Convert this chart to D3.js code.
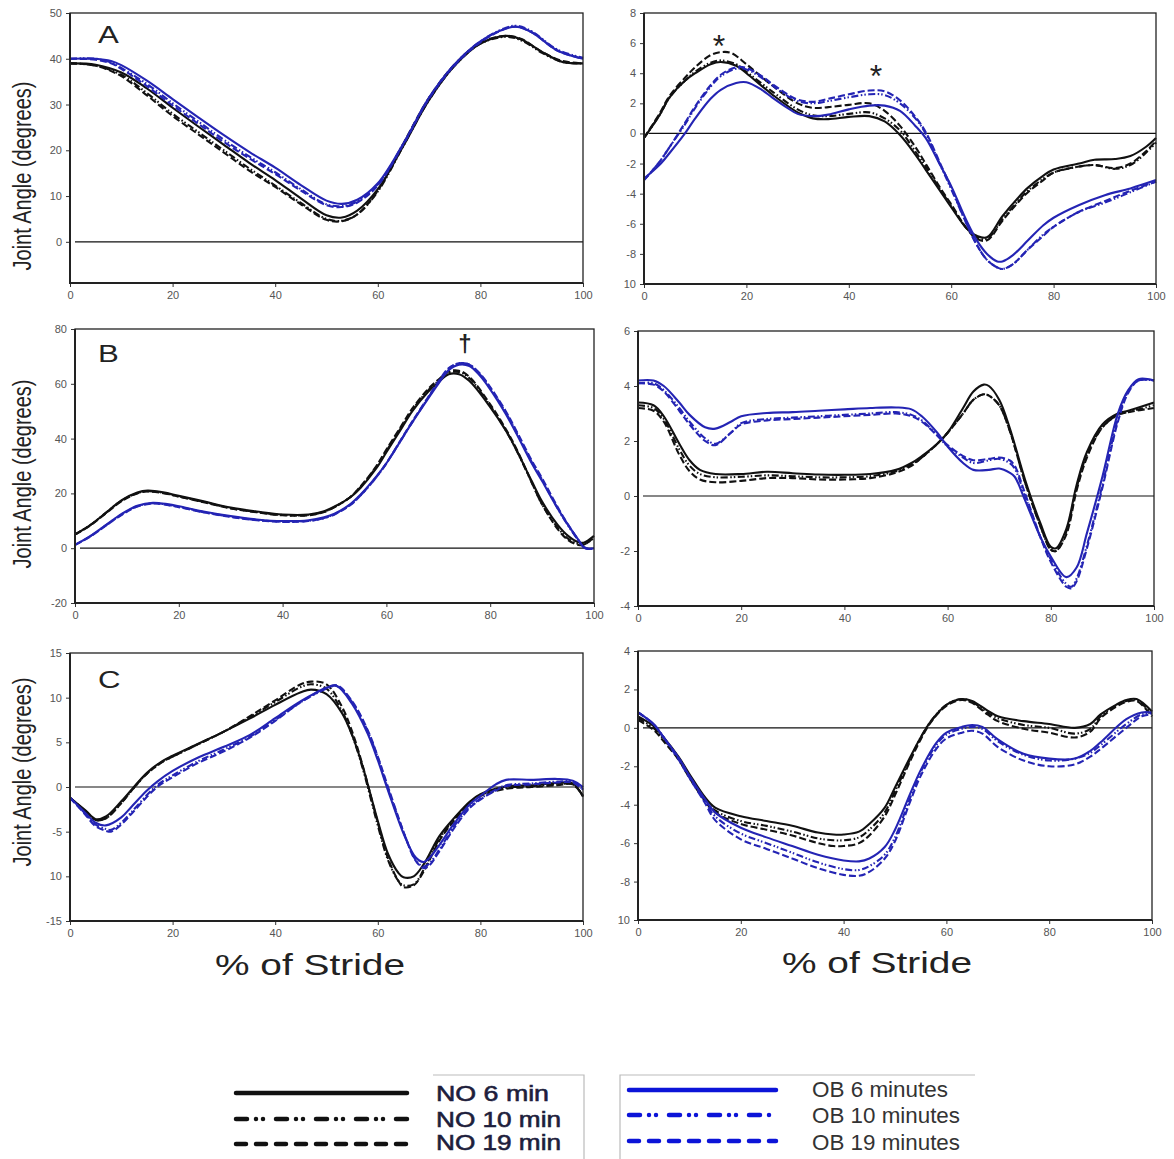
<!DOCTYPE html>
<html>
<head>
<meta charset="utf-8">
<script src="https://cdn.jsdelivr.net/npm/d3@7"></script>
<style>
  html, body { margin: 0; padding: 0; background: #fff; }
  svg { display: block; font-family: "Liberation Sans", Arial, sans-serif; }
  .tick text { font-size: 11px; fill: #555; }
  .tick line { stroke: #333; stroke-width: 1; }
</style>
</head>
<body>
<svg id="chart" width="1174" height="1159"></svg>
<script>
// ── data: joint angle (degrees) vs % of stride, [stride%, angle] ──

// panel A, left
const AL_NO6  = [[0,39],[5,38.7],[10,37],[15,33.5],[20,29.3],[25,25.2],[30,21.2],[35,17.2],[40,13.5],[45,9.5],[50,5.8],[53,5.3],[56,6.8],[60,11.5],[65,21],[70,31],[75,38.5],[80,43.3],[85,45],[88,44.2],[92,41.5],[96,39.3],[100,39]];
const AL_NO10 = [[0,39],[5,38.5],[10,36.5],[15,32.5],[20,28],[25,24],[30,20],[35,16],[40,12.3],[45,8.5],[50,5],[53,4.6],[56,6],[60,11],[65,21],[70,31],[75,38.5],[80,43.3],[85,44.8],[88,44],[92,41.3],[96,39.3],[100,39]];
const AL_NO19 = [[0,39],[5,38.5],[10,36.2],[15,32],[20,27.5],[25,23.5],[30,19.5],[35,15.5],[40,12],[45,8.2],[50,4.8],[53,4.5],[56,6],[60,11.2],[65,21.5],[70,31.5],[75,38.8],[80,43.5],[85,45],[88,44.3],[92,41.5],[96,39.5],[100,39]];
const AL_OB6  = [[0,40],[5,40],[8,39.5],[10,38.6],[15,35.2],[20,31.2],[25,27.2],[30,23.3],[35,19.6],[40,16.2],[45,12.4],[50,9],[53,8.3],[56,9.2],[60,12.8],[65,21.5],[70,31.5],[75,38.8],[80,43.8],[85,46.6],[87,47],[90,45.8],[95,41.8],[100,40]];
const AL_OB10 = [[0,40],[5,40],[8,39.2],[10,38],[15,34.5],[20,30.3],[25,26.3],[30,22.3],[35,18.6],[40,15.2],[45,11.5],[50,8.2],[53,7.8],[56,8.8],[60,12.5],[65,21.5],[70,31.5],[75,38.8],[80,43.8],[85,46.8],[87,47.2],[90,46],[95,42],[100,40.2]];
const AL_OB19 = [[0,40],[5,39.8],[8,39],[10,37.8],[15,34],[20,29.8],[25,25.8],[30,21.8],[35,18.2],[40,14.8],[45,11.2],[50,8],[53,7.6],[56,8.6],[60,12.3],[65,21.3],[70,31.3],[75,38.6],[80,43.6],[85,46.6],[87,47],[90,45.8],[95,41.8],[100,40]];

// panel A, right
const AR_NO6  = [[0,-0.3],[3,1.2],[5,2.4],[8,3.5],[10,4],[13,4.6],[15,4.75],[18,4.5],[20,4],[25,2.6],[30,1.4],[33,1.0],[36,0.95],[40,1.1],[44,1.15],[47,0.8],[50,-0.1],[53,-1.4],[55,-2.4],[58,-3.9],[60,-4.9],[63,-6.3],[65,-6.8],[67,-6.9],[70,-5.5],[73,-4.3],[75,-3.6],[78,-2.8],[80,-2.4],[85,-2.0],[88,-1.75],[92,-1.7],[95,-1.5],[98,-0.9],[100,-0.3]];
const AR_NO10 = [[0,-0.3],[3,1.2],[5,2.4],[8,3.5],[10,4.1],[13,4.7],[15,4.85],[18,4.6],[20,4.1],[25,2.8],[30,1.6],[33,1.2],[36,1.15],[40,1.3],[44,1.4],[47,1.0],[50,0.2],[53,-1.2],[55,-2.2],[58,-3.8],[60,-4.8],[63,-6.3],[65,-6.9],[67,-7.0],[70,-5.7],[73,-4.5],[75,-3.8],[78,-3.0],[80,-2.6],[85,-2.2],[88,-2.1],[92,-2.35],[95,-2.1],[98,-1.3],[100,-0.6]];
const AR_NO19 = [[0,-0.3],[3,1.3],[5,2.5],[8,3.7],[10,4.4],[13,5.2],[15,5.4],[17,5.35],[20,4.6],[25,3.2],[30,2.0],[33,1.7],[36,1.75],[40,1.9],[44,2.0],[47,1.5],[50,0.5],[53,-0.9],[55,-2.0],[58,-3.7],[60,-4.7],[63,-6.3],[65,-7.0],[67,-7.1],[70,-5.8],[73,-4.6],[75,-3.9],[78,-3.1],[80,-2.6],[85,-2.2],[88,-2.1],[92,-2.3],[95,-2.0],[98,-1.2],[100,-0.5]];
const AR_OB6  = [[0,-3.0],[3,-2.1],[5,-1.3],[8,0],[10,1.0],[13,2.3],[15,2.9],[18,3.35],[20,3.4],[23,2.9],[25,2.4],[28,1.7],[30,1.3],[33,1.15],[36,1.25],[40,1.6],[44,1.85],[47,1.85],[50,1.5],[53,0.5],[55,-0.3],[58,-2.2],[60,-3.5],[63,-5.8],[65,-7.1],[67,-8.0],[69,-8.5],[70,-8.5],[72,-8.1],[75,-7.1],[78,-6.1],[80,-5.6],[85,-4.75],[90,-4.1],[95,-3.65],[100,-3.1]];
const AR_OB10 = [[0,-3.1],[3,-1.9],[5,-0.9],[8,0.6],[10,1.7],[13,3.1],[15,3.8],[18,4.3],[20,4.25],[23,3.7],[25,3.2],[28,2.5],[30,2.15],[33,2.0],[36,2.15],[40,2.4],[44,2.6],[47,2.55],[50,2.0],[53,1.0],[55,0.0],[58,-2.2],[60,-3.7],[63,-6.0],[65,-7.4],[67,-8.4],[69,-8.9],[70,-9.0],[72,-8.7],[75,-7.7],[78,-6.7],[80,-6.2],[85,-5.2],[90,-4.6],[95,-3.9],[100,-3.2]];
const AR_OB19 = [[0,-3.1],[3,-1.9],[5,-0.9],[8,0.7],[10,1.8],[13,3.2],[15,3.9],[18,4.4],[20,4.35],[23,3.8],[25,3.3],[28,2.6],[30,2.25],[33,2.1],[36,2.3],[40,2.6],[44,2.85],[47,2.8],[50,2.2],[53,1.1],[55,0.1],[58,-2.1],[60,-3.6],[63,-6.0],[65,-7.4],[67,-8.4],[69,-8.9],[70,-9.0],[72,-8.7],[75,-7.7],[78,-6.8],[80,-6.2],[85,-5.2],[90,-4.5],[95,-3.8],[100,-3.2]];

// panel B, left
const BL_NO6  = [[0,5],[3,8.5],[6,13],[9,17.5],[12,20.3],[14,21],[17,20.4],[20,19.1],[25,17],[30,14.8],[35,13.4],[40,12.3],[45,12.3],[48,13.5],[50,15.2],[53,18.5],[55,22],[58,29],[60,35],[63,44],[65,50],[68,57],[70,60.5],[72,63.5],[74,63.5],[76,61],[80,51.5],[83,43],[85,36],[88,24.5],[90,17],[93,8.5],[95,4.5],[97,2.2],[98,2.0],[100,4.5]];
const BL_NO10 = [[0,5],[3,8.5],[6,13],[9,17.4],[12,20.1],[14,20.8],[17,20.2],[20,18.9],[25,16.8],[30,14.6],[35,13.2],[40,12.1],[45,12.1],[48,13.3],[50,15],[53,18.6],[55,22.3],[58,29.5],[60,35.5],[63,44.5],[65,50.5],[68,57.5],[70,61],[72,64],[74,64.3],[76,62],[80,52],[83,43],[85,36],[88,24],[90,16],[93,7.5],[95,3.5],[97,1.5],[98,1.3],[100,3.8]];
const BL_NO19 = [[0,5],[3,8.4],[6,12.8],[9,17.2],[12,20],[14,20.7],[17,20.1],[20,18.8],[25,16.7],[30,14.5],[35,13.1],[40,12],[45,12],[48,13.2],[50,15],[53,18.6],[55,22.5],[58,29.8],[60,36],[63,45],[65,51],[68,58],[70,61.5],[72,64.5],[74,64.8],[76,62.5],[80,52.5],[83,43.5],[85,36.5],[88,24],[90,16],[93,7],[95,3],[97,1.2],[98,1.2],[100,4]];
const BL_OB6  = [[0,1.2],[3,4.5],[6,8.5],[9,12.5],[12,15.5],[15,16.6],[18,16],[20,15.3],[25,13.3],[30,11.7],[35,10.5],[40,9.9],[45,10.2],[48,11.3],[50,12.6],[53,16],[55,19.5],[58,26],[60,31],[63,40],[65,46],[68,54.5],[70,60],[72,65],[74,67],[76,66.5],[78,63],[80,58],[83,49],[85,42],[88,31],[90,24.5],[93,14.5],[95,8.5],[97,3],[98,0.5],[99,-0.2],[100,0]];
const BL_OB10 = [[0,1.2],[3,4.4],[6,8.4],[9,12.3],[12,15.3],[15,16.4],[18,15.8],[20,15.1],[25,13.1],[30,11.5],[35,10.3],[40,9.7],[45,10],[48,11],[50,12.4],[53,15.8],[55,19.3],[58,25.8],[60,31],[63,40],[65,46],[68,54.8],[70,60.5],[72,65.5],[74,67.5],[76,67],[78,63.5],[80,58.5],[83,49.5],[85,42.5],[88,31.5],[90,25],[93,14.5],[95,8.3],[97,2.8],[98,0.3],[99,-0.3],[100,0]];
const BL_OB19 = [[0,1.2],[3,4.3],[6,8.3],[9,12.2],[12,15.2],[15,16.3],[18,15.7],[20,15],[25,13],[30,11.4],[35,10.2],[40,9.6],[45,9.9],[48,11],[50,12.3],[53,15.7],[55,19.2],[58,25.8],[60,31],[63,40.2],[65,46.3],[68,55],[70,60.8],[72,65.7],[74,67.5],[76,67],[78,63.8],[80,58.8],[83,50],[85,43],[88,32],[90,25.5],[93,15],[95,8.6],[97,3],[98,0.4],[99,-0.3],[100,0]];

// panel B, right
const BR_NO6  = [[0,3.4],[3,3.3],[5,2.9],[8,1.9],[10,1.3],[12,0.95],[15,0.8],[20,0.8],[25,0.88],[30,0.83],[35,0.78],[40,0.77],[45,0.8],[50,0.95],[53,1.2],[55,1.45],[58,1.9],[60,2.3],[63,3.2],[65,3.8],[67,4.05],[68,4.0],[70,3.5],[72,2.5],[75,0.6],[78,-1.0],[80,-1.85],[81,-1.9],[83,-1.2],[85,0.4],[87,1.6],[90,2.6],[93,3.0],[95,3.1],[100,3.4]];
const BR_NO10 = [[0,3.3],[3,3.2],[5,2.8],[8,1.7],[10,1.1],[12,0.8],[15,0.68],[20,0.7],[25,0.75],[30,0.72],[35,0.68],[40,0.68],[45,0.72],[50,0.9],[53,1.15],[55,1.4],[58,1.9],[60,2.3],[63,3.0],[65,3.5],[67,3.7],[68,3.65],[70,3.3],[72,2.4],[75,0.5],[78,-1.1],[80,-1.95],[81,-2.0],[83,-1.3],[85,0.3],[87,1.5],[90,2.5],[93,2.95],[95,3.05],[100,3.3]];
const BR_NO19 = [[0,3.2],[3,3.1],[5,2.7],[8,1.5],[10,0.9],[12,0.6],[15,0.5],[20,0.55],[25,0.65],[30,0.65],[35,0.6],[40,0.6],[45,0.65],[50,0.85],[53,1.1],[55,1.4],[58,1.9],[60,2.3],[63,3.0],[65,3.5],[67,3.7],[68,3.65],[70,3.3],[72,2.4],[75,0.5],[78,-1.1],[80,-1.95],[81,-2.0],[83,-1.4],[85,0.2],[87,1.4],[90,2.5],[93,2.95],[95,3.05],[100,3.2]];
const BR_OB6  = [[0,4.2],[3,4.2],[5,4.0],[8,3.4],[10,2.95],[13,2.5],[15,2.45],[18,2.7],[20,2.9],[25,3.02],[30,3.05],[35,3.1],[40,3.15],[45,3.2],[50,3.22],[53,3.15],[55,2.9],[58,2.3],[60,1.8],[63,1.2],[65,0.95],[68,0.95],[70,1.0],[72,0.85],[73,0.7],[75,-0.15],[78,-1.5],[80,-2.2],[83,-2.95],[85,-2.6],[87,-1.35],[90,0.7],[93,3.0],[95,3.85],[97,4.25],[100,4.2]];
const BR_OB10 = [[0,4.1],[3,4.1],[5,3.85],[8,3.2],[10,2.7],[13,2.1],[15,1.9],[18,2.3],[20,2.65],[25,2.8],[30,2.85],[35,2.9],[40,2.95],[45,3.0],[50,3.05],[53,2.95],[55,2.75],[58,2.2],[60,1.8],[63,1.4],[65,1.2],[68,1.3],[70,1.35],[72,1.2],[73,1.0],[75,0.0],[78,-1.5],[80,-2.3],[83,-3.2],[84,-3.3],[85,-3.0],[87,-1.8],[90,0.4],[93,2.8],[95,3.8],[97,4.2],[100,4.2]];
const BR_OB19 = [[0,4.1],[3,4.05],[5,3.8],[8,3.1],[10,2.6],[13,2.0],[15,1.85],[18,2.3],[20,2.6],[25,2.75],[30,2.8],[35,2.85],[40,2.9],[45,2.95],[50,3.0],[53,2.9],[55,2.7],[58,2.2],[60,1.85],[63,1.45],[65,1.3],[68,1.35],[70,1.4],[72,1.3],[73,1.1],[75,0.1],[78,-1.5],[80,-2.4],[83,-3.3],[84,-3.35],[85,-3.1],[87,-1.9],[90,0.3],[93,2.7],[95,3.75],[97,4.2],[100,4.2]];

// panel C, left
const CL_NO6  = [[0,-1.2],[3,-2.6],[5,-3.6],[7,-3.3],[10,-1.6],[12,-0.3],[15,1.6],[18,2.9],[20,3.5],[25,4.85],[30,6.2],[35,7.65],[40,9.2],[45,10.6],[47,10.9],[50,10.4],[53,8.3],[55,5.8],[57,2.4],[60,-3.8],[62,-7.5],[64,-9.6],[65,-10.1],[67,-10.0],[69,-8.6],[72,-5.5],[75,-3.4],[78,-1.6],[80,-0.8],[85,0.05],[90,0.2],[95,0.45],[98,0.4],[100,-1.1]];
const CL_NO10 = [[0,-1.2],[3,-2.7],[5,-3.7],[7,-3.5],[10,-1.8],[12,-0.4],[15,1.5],[18,2.8],[20,3.4],[25,4.8],[30,6.2],[35,7.8],[40,9.5],[45,11.2],[47,11.5],[50,11],[53,8.5],[55,5.8],[57,2.2],[60,-4.3],[62,-8.2],[64,-10.5],[65,-11],[67,-10.9],[69,-9.2],[72,-5.8],[75,-3.5],[78,-1.7],[80,-0.9],[85,-0.1],[90,0.1],[95,0.3],[98,0.3],[100,-1.0]];
const CL_NO19 = [[0,-1.2],[3,-2.7],[5,-3.7],[7,-3.5],[10,-1.8],[12,-0.4],[15,1.5],[18,2.8],[20,3.4],[25,4.8],[30,6.2],[35,7.9],[40,9.7],[45,11.5],[47,11.8],[50,11.5],[53,9],[55,6.2],[57,2.5],[60,-4.0],[62,-8.0],[64,-10.5],[65,-11.2],[67,-11],[69,-9.4],[72,-6],[75,-3.7],[78,-1.8],[80,-1.0],[85,-0.2],[90,0.0],[95,0.2],[98,0.3],[100,-1.0]];
const CL_OB6  = [[0,-1.2],[3,-2.9],[5,-4],[7,-4.3],[10,-3.4],[12,-2.2],[15,-0.4],[17,0.6],[20,1.8],[25,3.3],[30,4.5],[35,5.8],[40,7.7],[45,9.6],[50,11.1],[52,11.3],[55,9.3],[58,6.0],[60,3.0],[62,-0.4],[65,-5.2],[67,-7.6],[68,-8.2],[69,-8.4],[70,-8.0],[72,-6.5],[75,-4.0],[78,-1.9],[80,-1.0],[83,0.3],[85,0.8],[90,0.8],[95,0.9],[98,0.7],[100,0]];
const CL_OB10 = [[0,-1.2],[3,-3.0],[5,-4.2],[7,-4.7],[8,-4.8],[10,-4.0],[12,-2.8],[15,-0.9],[17,0.2],[20,1.3],[25,2.9],[30,4.2],[35,5.6],[40,7.5],[45,9.5],[50,11.0],[52,11.3],[55,9.5],[58,6.3],[60,3.3],[62,-0.2],[65,-5.0],[67,-7.8],[68,-8.6],[69,-8.9],[70,-8.6],[72,-7.0],[75,-4.3],[78,-2.2],[80,-1.3],[83,-0.3],[85,0.2],[90,0.4],[95,0.6],[98,0.6],[100,-0.3]];
const CL_OB19 = [[0,-1.2],[3,-3.1],[5,-4.4],[7,-4.9],[8,-5.0],[10,-4.2],[12,-3.0],[15,-1.1],[17,0],[20,1.1],[25,2.7],[30,4.0],[35,5.5],[40,7.4],[45,9.5],[50,11.1],[52,11.4],[55,9.6],[58,6.4],[60,3.4],[62,0.0],[65,-5.0],[67,-7.9],[68,-8.7],[69,-9.1],[70,-8.8],[72,-7.2],[75,-4.5],[78,-2.3],[80,-1.4],[83,-0.4],[85,0.1],[90,0.3],[95,0.5],[98,0.5],[100,-0.3]];

// panel C, right
const CR_NO6  = [[0,0.6],[3,0.1],[5,-0.5],[8,-1.55],[10,-2.4],[13,-3.6],[15,-4.15],[20,-4.6],[25,-4.85],[30,-5.1],[35,-5.45],[38,-5.55],[40,-5.55],[43,-5.4],[45,-5.0],[48,-4.15],[50,-3.1],[53,-1.5],[55,-0.5],[57,0.35],[60,1.2],[63,1.5],[65,1.4],[68,0.9],[70,0.6],[75,0.35],[80,0.2],[85,0.0],[88,0.2],[90,0.7],[93,1.2],[95,1.45],[97,1.5],[100,0.85]];
const CR_NO10 = [[0,0.5],[3,0],[5,-0.6],[8,-1.6],[10,-2.5],[13,-3.7],[15,-4.3],[20,-4.85],[25,-5.1],[30,-5.4],[35,-5.75],[38,-5.85],[40,-5.85],[43,-5.7],[45,-5.3],[48,-4.4],[50,-3.3],[53,-1.6],[55,-0.5],[57,0.35],[60,1.2],[63,1.5],[65,1.35],[68,0.8],[70,0.5],[75,0.15],[80,0.0],[85,-0.3],[88,-0.05],[90,0.6],[93,1.15],[95,1.4],[97,1.45],[100,0.7]];
const CR_NO19 = [[0,0.4],[3,-0.1],[5,-0.7],[8,-1.7],[10,-2.6],[13,-3.8],[15,-4.4],[20,-5.0],[25,-5.3],[30,-5.6],[35,-6.0],[38,-6.15],[40,-6.15],[43,-6.0],[45,-5.6],[48,-4.6],[50,-3.5],[53,-1.7],[55,-0.6],[57,0.3],[60,1.15],[63,1.45],[65,1.3],[68,0.7],[70,0.35],[75,-0.05],[80,-0.25],[85,-0.5],[88,-0.2],[90,0.5],[93,1.1],[95,1.35],[97,1.4],[100,0.6]];
const CR_OB6  = [[0,0.8],[3,0.2],[5,-0.5],[8,-1.6],[10,-2.5],[13,-3.7],[15,-4.4],[20,-5.2],[25,-5.7],[30,-6.15],[35,-6.6],[40,-6.9],[43,-6.95],[45,-6.8],[48,-6.2],[50,-5.3],[53,-3.4],[55,-2.2],[58,-0.8],[60,-0.25],[63,0.05],[65,0.15],[67,0.05],[70,-0.6],[75,-1.35],[80,-1.6],[85,-1.6],[88,-1.2],[90,-0.75],[95,0.45],[98,0.8],[100,0.8]];
const CR_OB10 = [[0,0.8],[3,0.2],[5,-0.5],[8,-1.6],[10,-2.5],[13,-3.8],[15,-4.6],[20,-5.5],[25,-6.0],[30,-6.5],[35,-7.0],[40,-7.35],[43,-7.4],[45,-7.2],[48,-6.6],[50,-5.7],[53,-3.6],[55,-2.3],[58,-0.9],[60,-0.35],[63,-0.05],[65,0.05],[67,-0.05],[70,-0.7],[75,-1.4],[80,-1.7],[85,-1.6],[88,-1.3],[90,-0.9],[95,0.2],[98,0.7],[100,0.75]];
const CR_OB19 = [[0,0.8],[3,0.2],[5,-0.5],[8,-1.7],[10,-2.6],[13,-3.9],[15,-4.8],[20,-5.8],[25,-6.3],[30,-6.8],[35,-7.3],[40,-7.65],[43,-7.7],[45,-7.5],[48,-6.8],[50,-5.9],[53,-3.8],[55,-2.5],[58,-1.1],[60,-0.55],[63,-0.25],[65,-0.15],[67,-0.3],[70,-1.0],[75,-1.7],[80,-2.0],[85,-1.9],[88,-1.5],[90,-1.1],[95,0.0],[98,0.6],[100,0.7]];

// axis ticks / labels
const X_TICKS = [0, 20, 40, 60, 80, 100];
const AL_TICKS = [0, 10, 20, 30, 40, 50];
const AR_TICKS = [-10, -8, -6, -4, -2, 0, 2, 4, 6, 8];
const BL_TICKS = [-20, 0, 20, 40, 60, 80];
const BR_TICKS = [-4, -2, 0, 2, 4, 6];
const CL_TICKS = [-15, -10, -5, 0, 5, 10, 15];
const CR_TICKS = [-10, -8, -6, -4, -2, 0, 2, 4];

const SERIES = ['NO 6 min', 'NO 10 min', 'NO 19 min', 'OB 6 minutes', 'OB 10 minutes', 'OB 19 minutes'];

// ── styles ──
const BLACK = '#111';
const BLUE = '#2424b4';
const DASH = { solid: null, dotdash: '7,2.5,1.5,2,1.5,2.5', dash: '7,3' };
const seriesStyle = [
  { color: BLACK, dash: DASH.solid },
  { color: BLACK, dash: DASH.dotdash },
  { color: BLACK, dash: DASH.dash },
  { color: BLUE, dash: DASH.solid },
  { color: BLUE, dash: DASH.dotdash },
  { color: BLUE, dash: DASH.dash }
];

const panels = [
  { x0: 70,  x1: 583,  y0: 13,  y1: 283, dom: [-9, 50],  ticks: AL_TICKS, data: [AL_NO6, AL_NO10, AL_NO19, AL_OB6, AL_OB10, AL_OB19] },
  { x0: 644, x1: 1156, y0: 13,  y1: 284, dom: [-10, 8],  ticks: AR_TICKS, data: [AR_NO6, AR_NO10, AR_NO19, AR_OB6, AR_OB10, AR_OB19] },
  { x0: 75,  x1: 594,  y0: 329, y1: 603, dom: [-20, 80], ticks: BL_TICKS, data: [BL_NO6, BL_NO10, BL_NO19, BL_OB6, BL_OB10, BL_OB19] },
  { x0: 638, x1: 1154, y0: 331, y1: 606, dom: [-4, 6],   ticks: BR_TICKS, data: [BR_NO6, BR_NO10, BR_NO19, BR_OB6, BR_OB10, BR_OB19] },
  { x0: 70,  x1: 583,  y0: 653, y1: 921, dom: [-15, 15], ticks: CL_TICKS, data: [CL_NO6, CL_NO10, CL_NO19, CL_OB6, CL_OB10, CL_OB19] },
  { x0: 638, x1: 1152, y0: 651, y1: 920, dom: [-10, 4],  ticks: CR_TICKS, data: [CR_NO6, CR_NO10, CR_NO19, CR_OB6, CR_OB10, CR_OB19] }
];

const svg = d3.select('#chart');
svg.append('rect').attr('width', 1174).attr('height', 1159).attr('fill', '#fff');

// the bottom "-10" labels lost their minus sign in the original figure
const yFmt = d => (d === -10 ? '10' : String(d));

panels.forEach(p => {
  const x = d3.scaleLinear().domain([0, 100]).range([p.x0, p.x1]);
  const y = d3.scaleLinear().domain(p.dom).range([p.y1, p.y0]);
  const g = svg.append('g');

  g.append('g')
    .attr('transform', `translate(${p.x0},0)`)
    .call(d3.axisLeft(y).tickValues(p.ticks).tickFormat(yFmt).tickSize(4).tickPadding(4))
    .call(a => a.select('.domain').remove());

  g.append('g')
    .attr('transform', `translate(0,${p.y1})`)
    .call(d3.axisBottom(x).tickValues(X_TICKS).tickSize(4).tickPadding(4))
    .call(a => a.select('.domain').remove());

  // zero reference line
  g.append('line')
    .attr('x1', p.x0 + 5).attr('x2', p.x1)
    .attr('y1', y(0)).attr('y2', y(0))
    .attr('stroke', '#111').attr('stroke-width', 1.2);

  const line = d3.line()
    .x(d => x(d[0])).y(d => y(d[1]))
    .curve(d3.curveCatmullRom.alpha(0.5));

  // draw black series first, blue on top
  p.data.forEach((ser, i) => {
    const st = seriesStyle[i];
    g.append('path')
      .datum(ser)
      .attr('d', line)
      .attr('fill', 'none')
      .attr('stroke', st.color)
      .attr('stroke-width', 2.1)
      .attr('stroke-dasharray', st.dash);
  });

  // frame
  g.append('rect')
    .attr('x', p.x0).attr('y', p.y0)
    .attr('width', p.x1 - p.x0).attr('height', p.y1 - p.y0)
    .attr('fill', 'none').attr('stroke', '#222').attr('stroke-width', 1.3);
  g.append('path')
    .attr('d', `M${p.x0},${p.y0}V${p.y1}H${p.x1}`)
    .attr('fill', 'none').attr('stroke', '#222').attr('stroke-width', 2);
});

// panel letters
[['A', 98, 43], ['B', 98, 362], ['C', 98, 688]].forEach(([t, lx, ly]) => {
  svg.append('text')
    .attr('transform', `translate(${lx},${ly}) scale(1.3,1)`)
    .attr('font-size', 24).attr('fill', '#222')
    .text(t);
});

// y axis titles
[176, 474, 772].forEach(cy => {
  svg.append('text')
    .attr('transform', `translate(31,${cy}) rotate(-90) scale(1,1.25)`)
    .attr('text-anchor', 'middle')
    .attr('font-size', 20).attr('fill', '#222')
    .text('Joint Angle (degrees)');
});

// x axis titles
[[310, 975], [877, 973]].forEach(([cx, by]) => {
  svg.append('text')
    .attr('x', cx - 95).attr('y', by)
    .attr('font-size', 30).attr('fill', '#222')
    .attr('textLength', 190).attr('lengthAdjust', 'spacingAndGlyphs')
    .text('% of Stride');
});

// significance marks
[['*', 719, 57], ['*', 876, 87]].forEach(([t, sx, sy]) => {
  svg.append('text')
    .attr('x', sx).attr('y', sy)
    .attr('text-anchor', 'middle')
    .attr('font-size', 32).attr('fill', '#222')
    .text(t);
});
svg.append('text')
  .attr('x', 465).attr('y', 352)
  .attr('text-anchor', 'middle')
  .attr('font-size', 24).attr('font-weight', 'bold').attr('fill', '#222')
  .text('†');

// ── legend ──
const leg = svg.append('g');
leg.append('path').attr('d', 'M433,1075H584V1159')
  .attr('fill', 'none').attr('stroke', '#bbb').attr('stroke-width', 1.2);
leg.append('path').attr('d', 'M620,1159V1075H975')
  .attr('fill', 'none').attr('stroke', '#bbb').attr('stroke-width', 1.2);

const LEG_DASH = [null, '11,9,0,7,0,13', '10,10'];
const legLeft = [
  { ly: 1093, ty: 1101, w: 113 },
  { ly: 1119, ty: 1127, w: 125 },
  { ly: 1144, ty: 1150, w: 125 }
];
const legRight = [
  { ly: 1090, ty: 1097, w: 136 },
  { ly: 1115, ty: 1123, w: 148 },
  { ly: 1141, ty: 1150, w: 148 }
];

legLeft.forEach((r, i) => {
  leg.append('line')
    .attr('x1', 236).attr('x2', 407).attr('y1', r.ly).attr('y2', r.ly)
    .attr('stroke', '#111').attr('stroke-width', 4.5)
    .attr('stroke-linecap', 'round')
    .attr('stroke-dasharray', LEG_DASH[i]);
  leg.append('text')
    .attr('x', 436).attr('y', r.ty)
    .attr('font-size', 22).attr('fill', '#1e1e3c')
    .attr('stroke', '#1e1e3c').attr('stroke-width', 0.6)
    .attr('textLength', r.w).attr('lengthAdjust', 'spacingAndGlyphs')
    .text(SERIES[i]);
});

legRight.forEach((r, i) => {
  leg.append('line')
    .attr('x1', 629).attr('x2', 776).attr('y1', r.ly).attr('y2', r.ly)
    .attr('stroke', '#0c14d8').attr('stroke-width', 4.5)
    .attr('stroke-linecap', 'round')
    .attr('stroke-dasharray', LEG_DASH[i]);
  leg.append('text')
    .attr('x', 812).attr('y', r.ty)
    .attr('font-size', 22).attr('fill', '#333')
    .attr('textLength', r.w).attr('lengthAdjust', 'spacingAndGlyphs')
    .text(SERIES[i + 3]);
});
</script>
</body>
</html>
